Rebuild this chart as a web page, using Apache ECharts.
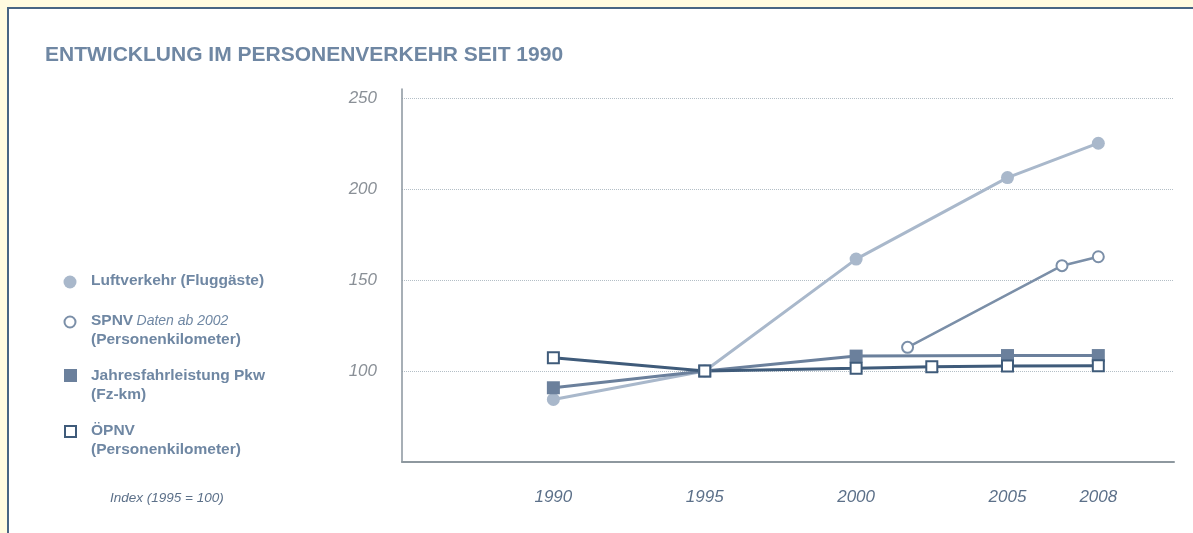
<!DOCTYPE html>
<html>
<head>
<meta charset="utf-8">
<script src="https://cdn.jsdelivr.net/npm/echarts@6/dist/echarts.min.js"></script>
<style>
  html, body { margin: 0; padding: 0; background: #fffbe0; }
  #frame {
    position: absolute; left: 7px; top: 7px; width: 1186px; height: 526px;
    background: #fff; border-left: 2px solid #476584; border-top: 2px solid #476584;
  }
  #main { position: absolute; left: 0; top: 0; width: 1193px; height: 533px; }
</style>
</head>
<body>
<div id="frame"></div>
<div id="main"></div>
<script>
// Index (1995 = 100)
var luftYears = [1990, 1995, 2000, 2005, 2008];
var luftVals  = [84.4, 100, 161.5, 206.3, 225.2];

var spnvYears = [2001.7, 2006.8, 2008];
var spnvVals  = [113.0, 157.9, 162.8];

var pkwYears = [1990, 1995, 2000, 2005, 2008];
var pkwVals  = [90.8, 100, 108.2, 108.5, 108.5];

var oepnvYears = [1990, 1995, 2000, 2002.5, 2005, 2008];
var oepnvVals  = [107.3, 100, 101.5, 102.3, 102.8, 102.9];

var xTicks = [1990, 1995, 2000, 2005, 2008];
var yTicks = [100, 150, 200, 250];

function pairs(xs, ys) {
    var out = [];
    for (var i = 0; i < xs.length; i++) out.push([xs[i], ys[i]]);
    return out;
}

var cLuft = '#a9b8cb';
var cSpnv = '#7b8fa8';
var cPkw = '#6b809c';
var cOepnv = '#3f5b7a';
var cText = '#6f87a3';
var fontBold = '"Liberation Sans", Arial, sans-serif';

var legendText = {
    fontFamily: fontBold,
    fontWeight: 'bold',
    fontSize: 15.5,
    fill: cText
};

var option = {
    animation: false,
    backgroundColor: 'transparent',
    title: {
        text: 'ENTWICKLUNG IM PERSONENVERKEHR SEIT 1990',
        left: 40,
        top: 40,
        textStyle: {
            fontFamily: fontBold,
            fontWeight: 'bold',
            fontSize: 21,
            color: cText
        }
    },
    grid: { left: 402, right: 19, top: 89, bottom: 71 },
    xAxis: {
        type: 'value',
        min: 1985,
        max: 2010.5,
        splitLine: { show: false },
        axisTick: { show: false },
        axisLine: { show: true, lineStyle: { color: '#8e989f', width: 2 } },
        axisLabel: {
            customValues: xTicks,
            formatter: function (v) { return String(v); },
            margin: 27,
            fontFamily: '"Liberation Sans", Arial, sans-serif',
            fontStyle: 'italic',
            fontSize: 17,
            color: '#5c7089'
        }
    },
    yAxis: {
        type: 'value',
        min: 50,
        max: 255,
        interval: 50,
        axisTick: { show: false },
        axisLine: { show: true, lineStyle: { color: '#8a959e', width: 1.5 } },
        splitLine: {
            show: true,
            showMinLine: false,
            showMaxLine: false,
            lineStyle: { color: '#b3bec6', type: 'dotted', width: 1 }
        },
        axisLabel: {
            customValues: yTicks,
            margin: 25,
            fontFamily: '"Liberation Sans", Arial, sans-serif',
            fontStyle: 'italic',
            fontSize: 17,
            color: '#8a9097'
        }
    },
    series: [
        {
            name: 'Luftverkehr',
            type: 'line',
            data: pairs(luftYears, luftVals),
            symbol: 'circle',
            symbolSize: 13,
            lineStyle: { color: cLuft, width: 3 },
            itemStyle: { color: cLuft }
        },
        {
            name: 'SPNV',
            type: 'line',
            data: pairs(spnvYears, spnvVals),
            symbol: 'circle',
            symbolSize: 11,
            lineStyle: { color: cSpnv, width: 2.5 },
            itemStyle: { color: '#fff', borderColor: cSpnv, borderWidth: 2 }
        },
        {
            name: 'Jahresfahrleistung Pkw',
            type: 'line',
            data: pairs(pkwYears, pkwVals),
            symbol: 'rect',
            symbolSize: 13,
            lineStyle: { color: cPkw, width: 3 },
            itemStyle: { color: cPkw }
        },
        {
            name: 'ÖPNV',
            type: 'line',
            data: pairs(oepnvYears, oepnvVals),
            symbol: 'rect',
            symbolSize: 11,
            lineStyle: { color: cOepnv, width: 3 },
            itemStyle: { color: '#fff', borderColor: cOepnv, borderWidth: 2 }
        }
    ],
    graphic: [
        // Legende
        { type: 'circle', shape: { cx: 70, cy: 282, r: 6.5 }, style: { fill: cLuft } },
        { type: 'text', left: 91, top: 273, style: Object.assign({ text: 'Luftverkehr (Fluggäste)' }, legendText) },

        { type: 'circle', shape: { cx: 70, cy: 322, r: 5.5 }, style: { fill: '#fff', stroke: cSpnv, lineWidth: 2 } },
        {
            type: 'text', left: 91, top: 313,
            style: {
                text: '{b|SPNV} {i|Daten ab 2002}\n{b|(Personenkilometer)}',
                rich: {
                    b: { fontFamily: fontBold, fontWeight: 'bold', fontSize: 15.5, fill: cText, lineHeight: 19 },
                    i: { fontFamily: fontBold, fontStyle: 'italic', fontSize: 14, fill: cText, lineHeight: 19 }
                }
            }
        },

        { type: 'rect', shape: { x: 64, y: 369, width: 13, height: 13 }, style: { fill: cPkw } },
        { type: 'text', left: 91, top: 366, style: Object.assign({ text: 'Jahresfahrleistung Pkw\n(Fz-km)', lineHeight: 19 }, legendText) },

        { type: 'rect', shape: { x: 65, y: 426, width: 11, height: 11 }, style: { fill: '#fff', stroke: cOepnv, lineWidth: 2 } },
        { type: 'text', left: 91, top: 421, style: Object.assign({ text: 'ÖPNV\n(Personenkilometer)', lineHeight: 19 }, legendText) },

        {
            type: 'text', left: 110, top: 491,
            style: {
                text: 'Index (1995 = 100)',
                fontFamily: fontBold,
                fontStyle: 'italic',
                fontSize: 13.5,
                fill: '#5c7089'
            }
        }
    ]
};

var myChart = echarts.init(document.getElementById('main'));
myChart.setOption(option);
</script>
</body>
</html>
